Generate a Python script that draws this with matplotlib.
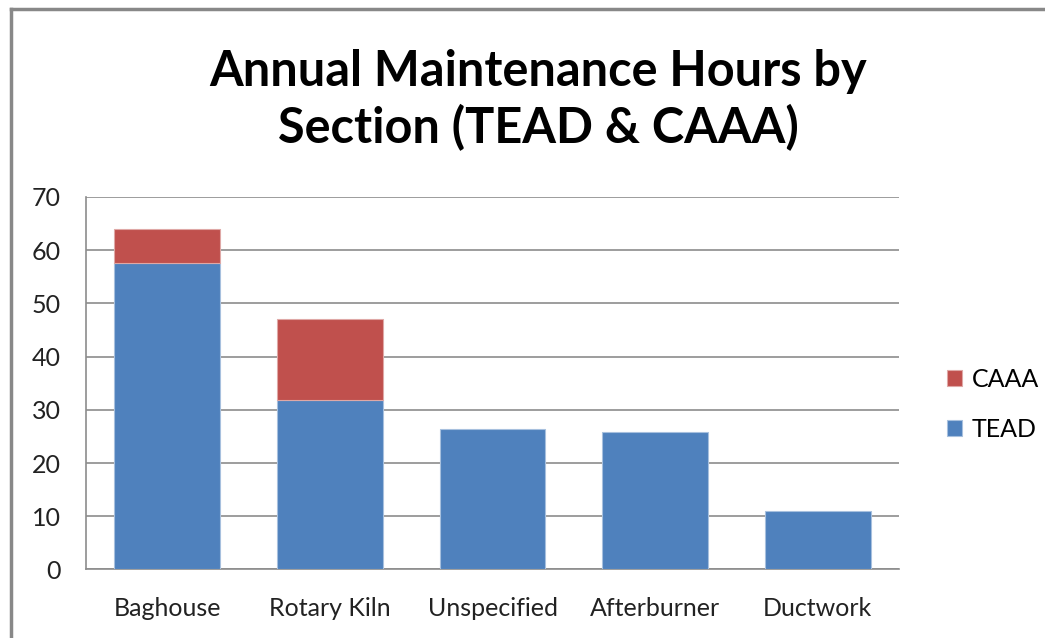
import matplotlib.pyplot as plt
from matplotlib.lines import Line2D

sections = ['Baghouse', 'Rotary Kiln', 'Unspecified', 'Afterburner', 'Ductwork']
tead = [57.6, 31.8, 26.3, 25.8, 10.9]
caaa = [6.3, 15.3, 0, 0, 0]

plt.rcParams['font.family'] = ['Lato', 'DejaVu Sans']

fig = plt.figure(figsize=(10.45, 6.38), dpi=100)
ax = fig.add_axes([0.0823, 0.1074, 0.778, 0.584])

x = range(len(sections))
b1 = ax.bar(x, tead, width=0.65, color='#4f81bd', edgecolor='#a7c0de', linewidth=0.8, label='TEAD', zorder=3)
caaa_edges = ['#dfa8a6' if v > 0 else 'none' for v in caaa]
b2 = ax.bar(x, caaa, width=0.65, bottom=tead, color='#c0504d', edgecolor=caaa_edges, linewidth=0.8, label='CAAA', zorder=3)

ax.set_ylim(0, 70)
ax.set_xlim(-0.5, 4.5)
ax.set_yticks(range(0, 71, 10))
ax.set_xticks(list(x))
ax.set_xticklabels(sections)
ax.tick_params(length=0, labelsize=18, colors='#222222')
ax.tick_params(axis='y', pad=18)
ax.tick_params(axis='x', pad=20)
ax.grid(axis='y', color='#8c8c8c', linewidth=1.2, zorder=0)
for s in ['top', 'right']:
    ax.spines[s].set_visible(False)
for s in ['left', 'bottom']:
    ax.spines[s].set_color('#8c8c8c')
    ax.spines[s].set_linewidth(1.2)

ax.legend([b2, b1], ['CAAA', 'TEAD'], loc='center left', bbox_to_anchor=(1.031, 0.443),
          frameon=False, fontsize=18, handlelength=0.6, handleheight=0.6,
          handletextpad=0.4, labelspacing=1.1)

fig.text(0.515, 0.843, 'Annual Maintenance Hours by\nSection (TEAD & CAAA)', ha='center', va='center',
         fontsize=35, fontweight='bold', linespacing=1.25)

fig.add_artist(Line2D([0.0105, 0.0105], [0, 0.986], color='#888888', linewidth=2.5, transform=fig.transFigure))
fig.add_artist(Line2D([0.0105, 1], [0.986, 0.986], color='#888888', linewidth=2.5, transform=fig.transFigure))

fig.savefig('out.png', dpi=100)
